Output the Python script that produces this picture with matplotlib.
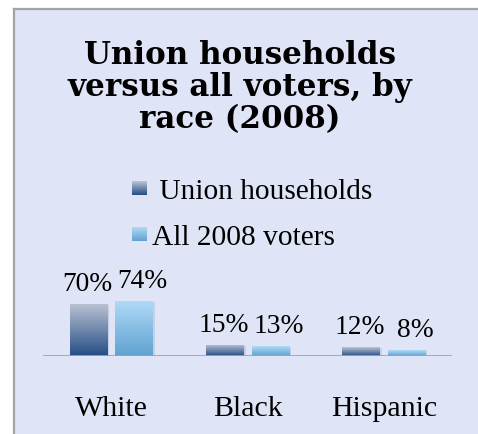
import numpy as np
import matplotlib
matplotlib.use("Agg")
import matplotlib.pyplot as plt
from matplotlib.patches import Rectangle
from matplotlib.lines import Line2D
from matplotlib.colors import LinearSegmentedColormap
import matplotlib.patheffects as pe

# ---- data ----
categories = ["White", "Black", "Hispanic"]
series_names = [" Union households", "All 2008 voters"]
union_households = [70, 15, 12]
all_voters = [74, 13, 8]
title_lines = ["Union households", "versus all voters, by", "race (2008)"]

W, H = 478, 435
DPI = 100
FONT = "Liberation Serif"
TITLE_FONT = "DejaVu Serif"
BG = "#dfe5f6"
BORDER = "#a3a3a3"

# gradient colours (top, bottom) per series
grad_colors = [("#bcc4d4", "#244d85"), ("#b0d9f8", "#5fa2cf")]


def fx(px):
    return px / W


def fy(py):
    return 1 - py / H


fig = plt.figure(figsize=(W / DPI, H / DPI), dpi=DPI)
fig.patch.set_facecolor("white")

# background panel: fill plus left/top border only (it runs off the right and bottom)
fig.add_artist(Rectangle((fx(13.5), 0), 1 - fx(13.5), fy(9.5), transform=fig.transFigure,
                         facecolor=BG, edgecolor="none", zorder=0))
fig.add_artist(Line2D([fx(13.5), fx(13.5)], [0, fy(9.5)], transform=fig.transFigure,
                      color=BORDER, linewidth=1.6, solid_capstyle="projecting", zorder=1))
fig.add_artist(Line2D([fx(13.5), 1], [fy(9.5), fy(9.5)], transform=fig.transFigure,
                      color=BORDER, linewidth=1.6, solid_capstyle="projecting", zorder=1))

# title
for i, line in enumerate(title_lines):
    fig.text(fx(240), fy(64 + 32 * i), line, ha="center", va="baseline",
             fontsize=22.3, fontweight="bold", family=TITLE_FONT, color="#000000")

# plot area
base_px = 356.7
px_per_unit = 0.743
ax = fig.add_axes([fx(43), fy(base_px), 409 / W, 100 * px_per_unit / H])
ax.set_facecolor("none")
ax.set_xlim(-0.5, 2.5)
ax.set_ylim(0, 100)
for s in ax.spines.values():
    s.set_visible(False)
ax.set_yticks([])

x = np.arange(len(categories))
width = 0.275
offset = 0.167
label_dx = [-1, 6]  # horizontal nudge of value labels, points

for k, vals in enumerate([union_households, all_voters]):
    top, bottom = grad_colors[k]
    cmap = LinearSegmentedColormap.from_list(f"g{k}", [bottom, top])
    bars = ax.bar(x + (2 * k - 1) * offset, vals, width, color=bottom,
                  linewidth=0, zorder=2, label=series_names[k])
    for b, v in zip(bars, vals):
        b.set_path_effects([pe.SimplePatchShadow(offset=(1.5, -1), shadow_rgbFace="#8090b0",
                                                 alpha=0.25), pe.Normal()])
        bx, bw, bh = b.get_x(), b.get_width(), b.get_height()
        grad = np.linspace(0, 1, 256).reshape(-1, 1)
        im = ax.imshow(grad, extent=[bx, bx + bw, 0, bh], origin="lower",
                       aspect="auto", cmap=cmap, zorder=3)
        im.set_clip_path(b)
        ax.annotate(f"{v}%", xy=(b.get_x() + bw / 2, v), xytext=(label_dx[k], 10),
                    textcoords="offset points", ha="center", va="baseline",
                    fontsize=19.8, family=FONT, color="#000000", annotation_clip=False)

ax.set_xlim(-0.5, 2.5)
ax.set_ylim(0, 100)
ax.axhline(0, color=BORDER, linewidth=2, zorder=4)
ax.set_xticks(x)
ax.set_xticklabels(categories, fontsize=21.5, family=FONT, color="#000000")
ax.tick_params(axis="x", length=0, pad=28)

# legend: gradient swatches with series names
legend_rows = [(182, 199), (228, 245)]
for k, (sy, ty) in enumerate(legend_rows):
    top, bottom = grad_colors[k]
    cmap = LinearSegmentedColormap.from_list(f"l{k}", [bottom, top])
    sw = fig.add_axes([fx(132), fy(sy + 13.5), 14.5 / W, 13.5 / H])
    sw.imshow(np.linspace(0, 1, 64).reshape(-1, 1), origin="lower", aspect="auto", cmap=cmap)
    sw.set_axis_off()
    fig.text(fx(152), fy(ty), series_names[k], ha="left", va="baseline",
             fontsize=21.2, family=FONT, color="#000000")

fig.savefig("out.png", dpi=DPI)
